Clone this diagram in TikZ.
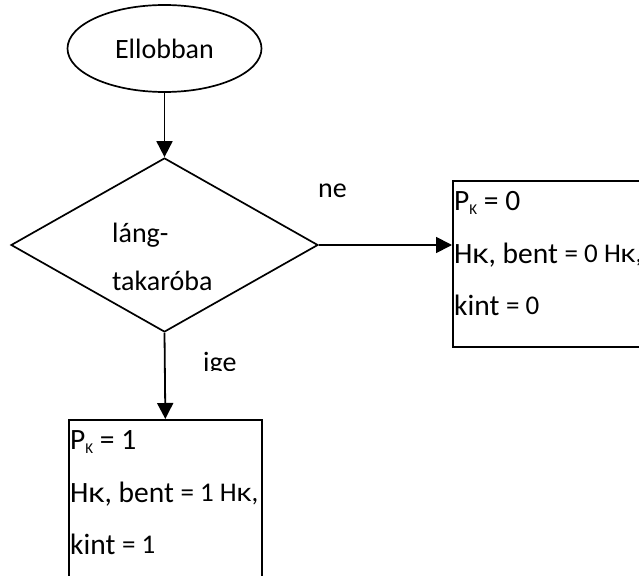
\documentclass[tikz,border=0pt]{standalone}
\usepackage{fontspec}
\setmainfont{Carlito}
\usetikzlibrary{shapes.geometric,arrows.meta}

\newcommand{\bigtxt}{\fontsize{28}{33}\selectfont}
\newcommand{\boxtxt}{\fontsize{29.5}{35}\selectfont}
\newcommand{\midtxt}[1]{\raisebox{1pt}{\fontsize{27}{32}\selectfont #1}}
\newcommand{\lowK}{\scalebox{1.05}[0.76]{K}}
\newcommand{\subK}{\raisebox{-0.35ex}{\fontsize{15}{17}\selectfont K}}

\tikzset{
  outline/.style={draw=black, line width=1.7pt},
  flow/.style={line width=1.8pt, -{Triangle[length=16pt,width=16pt]}},
  label/.style={inner sep=0pt, font=\bigtxt},
  boxline/.style={inner sep=0pt, anchor=base west, font=\boxtxt},
}

\begin{document}
\begin{tikzpicture}[x=1pt, y=-1pt]
  \clip (0,0) rectangle (639,575);
  \fill[white] (0,0) rectangle (639,575);

  % start terminal
  \node[outline, ellipse, minimum width=194pt, minimum height=87pt, inner sep=0pt,
        font=\bigtxt] (start) at (164.5,48.5) {Ellobban};

  % decision
  \node[outline, diamond, minimum width=307pt, minimum height=174pt, inner sep=0pt]
        (dec) at (164.5,245) {};
  \node[label, anchor=base west] (q1) at (112,242) {láng-};
  \node[label, anchor=base west] (q2) at (112,290) {takaróba};

  % "no" branch box
  \node[outline, rectangle, anchor=north west, minimum width=280pt,
        minimum height=166pt, inner sep=0pt] (nobox) at (452,180) {};
  \node[boxline] (n1) at (454,210) {P\subK{} = 0};
  \node[boxline] (n2) at (454,263) {H\lowK, bent \midtxt{= 0 H\lowK,}};
  \node[boxline] (n3) at (454,315) {kint \midtxt{= 0}};

  % "yes" branch box
  \node[outline, rectangle, anchor=north west, minimum width=193pt,
        minimum height=200pt, inner sep=0pt] (yesbox) at (68,419) {};
  \node[boxline] (y1) at (70,449) {P\subK{} = 1};
  \node[boxline] (y2) at (70,502) {H\lowK, bent \midtxt{= 1 H\lowK,}};
  \node[boxline] (y3) at (70,554) {kint \midtxt{= 1}};

  % branch labels
  \node[label, anchor=base west] (ne) at (318,197) {ne};
  \begin{scope}
    \clip (190,340) rectangle (260,370);
    \node[label, anchor=base west] (ige) at (203,371) {ige};
  \end{scope}

  % connectors
  \draw[flow] (start.south) -- (dec.north);
  \draw[flow] (dec.east) -- (dec.east -| nobox.west);
  \draw[flow] (dec.south) -- (yesbox.north);
\end{tikzpicture}
\end{document}
